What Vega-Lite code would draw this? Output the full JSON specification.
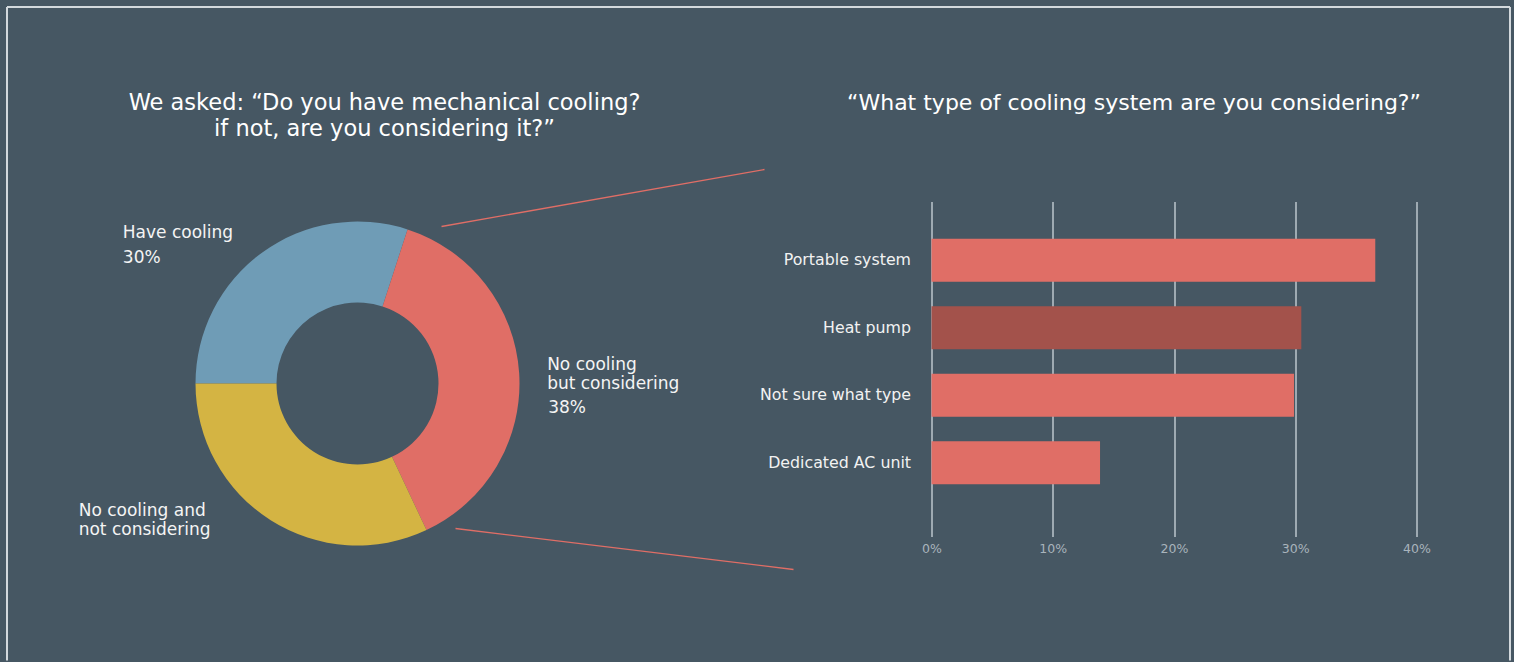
{
  "$schema": "https://vega.github.io/schema/vega-lite/v6.json",
  "background": "#465763",
  "padding": {"left": 5.5, "top": 5.5, "right": 3.5, "bottom": 0},
  "bounds": "flush",
  "spacing": 224,
  "resolve": {"scale": {"color": "independent"}},
  "config": {
    "view": {"stroke": null},
    "font": "DejaVu Sans",
    "title": {"color": "#ffffff", "fontSize": 22, "fontWeight": "normal", "anchor": "middle", "baseline": "bottom", "font": "DejaVu Sans", "frame": "group"}
  },
  "datasets": {
    "cooling": [
      {"category": "Have cooling", "label": "Have cooling", "share": 0.30},
      {"category": "No cooling but considering", "label": "No cooling\nbut considering", "share": 0.38},
      {"category": "No cooling and not considering", "label": "No cooling and\nnot considering", "share": 0.32}
    ],
    "systems": [
      {"system": "Portable system", "share": 0.366},
      {"system": "Heat pump", "share": 0.305},
      {"system": "Not sure what type", "share": 0.299},
      {"system": "Dedicated AC unit", "share": 0.139}
    ],
    "decor": [
      {"kind": "frame", "x": -2.1636, "y": 2.3241, "x2": 7.1142, "y2": 2.3241},
      {"kind": "frame", "x": -2.1636, "y": 2.3241, "x2": -2.1636, "y2": -1.7099},
      {"kind": "frame", "x": 7.1142, "y": 2.3241, "x2": 7.1142, "y2": -1.7099},
      {"kind": "connector", "x": 0.5185, "y": 0.9691, "x2": 2.5123, "y2": 1.3210},
      {"kind": "connector", "x": 0.6049, "y": -0.8951, "x2": 2.6914, "y2": -1.1481}
    ]
  },
  "hconcat": [
    {
      "width": 700,
      "height": 364,
      "title": {"text": ["We asked: “Do you have mechanical cooling?", "if not, are you considering it?”"], "dx": 27, "offset": -134.5, "lineHeight": 26, "fontSize": 22.5},
      "layer": [
        {
          "data": {"name": "decor"},
          "transform": [{"filter": "datum.kind == 'frame'"}],
          "mark": {"type": "rule", "stroke": "#d3d9dd", "strokeWidth": 2},
          "encoding": {
            "x": {"field": "x", "type": "quantitative", "scale": {"domain": [-2.16049, 2.16049], "nice": false, "zero": false}, "axis": null},
            "y": {"field": "y", "type": "quantitative", "scale": {"domain": [-1.12346, 1.12346], "nice": false, "zero": false}, "axis": null},
            "x2": {"field": "x2"},
            "y2": {"field": "y2"}
          }
        },
        {
          "data": {"name": "decor"},
          "transform": [{"filter": "datum.kind == 'connector'"}],
          "mark": {"type": "rule", "stroke": "#e06e66", "strokeWidth": 1.3},
          "encoding": {
            "x": {"field": "x", "type": "quantitative", "scale": {"domain": [-2.16049, 2.16049], "nice": false, "zero": false}, "axis": null},
            "y": {"field": "y", "type": "quantitative", "scale": {"domain": [-1.12346, 1.12346], "nice": false, "zero": false}, "axis": null},
            "x2": {"field": "x2"},
            "y2": {"field": "y2"}
          }
        },
        {
          "data": {"name": "cooling"},
          "encoding": {
            "theta": {"field": "share", "type": "quantitative", "stack": true, "scale": {"range": [0.31416, 6.59734]}},
            "order": {"field": "category", "sort": "descending"}
          },
          "layer": [
            {
              "mark": {"type": "arc", "innerRadius": 81, "outerRadius": 162},
              "encoding": {
                "color": {"field": "category", "type": "nominal", "scale": {"domain": ["Have cooling", "No cooling but considering", "No cooling and not considering"], "range": ["#6f9cb6", "#e06e66", "#d4b443"]}, "legend": null}
              }
            },
            {
              "mark": {"type": "text", "radius": 190, "align": "left", "baseline": "middle", "fontSize": 17, "color": "#f4f4f4", "lineBreak": "\n", "lineHeight": 19,
                "dx": {"expr": "datum.category == 'Have cooling' ? -123 : datum.category == 'No cooling but considering' ? 0 : -177"},
                "dy": {"expr": "datum.category == 'Have cooling' ? 3 : datum.category == 'No cooling but considering' ? -7 : -33"}},
              "encoding": {"text": {"field": "label", "type": "nominal"}}
            },
            {
              "mark": {"type": "text", "radius": 190, "align": "left", "baseline": "middle", "fontSize": 17, "color": "#f4f4f4",
                "dx": {"expr": "datum.category == 'Have cooling' ? -123 : 1"},
                "dy": {"expr": "datum.category == 'Have cooling' ? 28 : 36"}},
              "encoding": {"text": {"condition": {"test": "datum.category != 'No cooling and not considering'", "field": "share", "type": "quantitative", "format": ".0%"}, "value": ""}}
            }
          ]
        }
      ]
    },
    {
      "width": 485,
      "height": 320,
      "title": {"text": "“What type of cooling system are you considering?”", "dx": -40, "offset": 87},
      "data": {"name": "systems"},
      "mark": {"type": "bar"},
      "encoding": {
        "y": {"field": "system", "type": "nominal", "sort": null, "scale": {"paddingInner": 0.36, "paddingOuter": 0.55},
          "axis": {"title": null, "domain": false, "ticks": false, "grid": false, "labelPadding": 21, "labelFontSize": 15.8, "labelColor": "#f2f2f2", "labelFont": "DejaVu Sans"}},
        "x": {"field": "share", "type": "quantitative", "scale": {"domain": [0, 0.4], "nice": false},
          "axis": {"title": null, "format": ".0%", "values": [0, 0.1, 0.2, 0.3, 0.4], "domain": false, "grid": true, "gridColor": "#bcc6cd", "gridWidth": 1.5, "ticks": true, "tickSize": 15, "tickColor": "#bcc6cd", "tickWidth": 1.5, "labelPadding": 6, "labelFlush": false, "labelFontSize": 12.5, "labelColor": "#a9b4bc", "labelFont": "DejaVu Sans"}},
        "color": {"field": "system", "type": "nominal", "scale": {"domain": ["Portable system", "Heat pump", "Not sure what type", "Dedicated AC unit"], "range": ["#e06e66", "#a3524b", "#e06e66", "#e06e66"]}, "legend": null}
      }
    }
  ]
}
